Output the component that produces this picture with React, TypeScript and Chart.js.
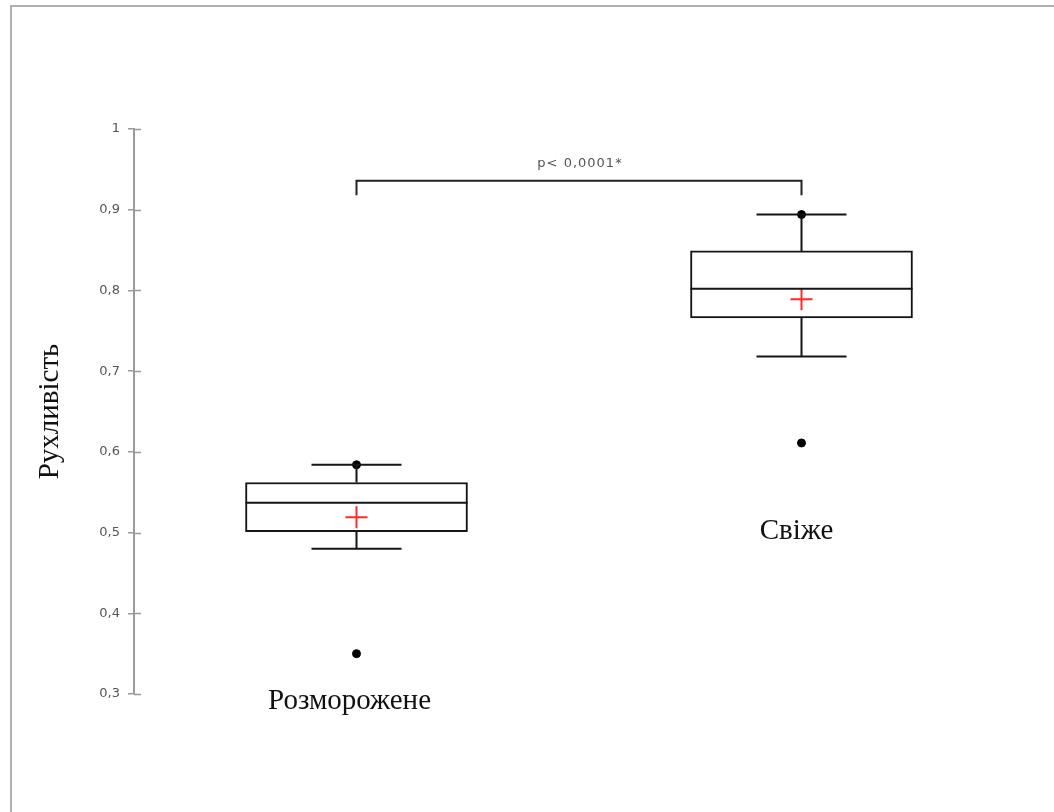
import React, { useEffect, useRef } from "react";
import { Chart, registerables } from "chart.js";

Chart.register(...registerables);

// ---- data ----
const categories = ["Розморожене", "Свіже"];
const categoryX = [1, 2];
const q1Values = [0.501, 0.766];
const medianValues = [0.537, 0.802];
const q3Values = [0.562, 0.849];
const whiskerLow = [0.48, 0.718];
const whiskerHigh = [0.584, 0.894];
const meanValues = [0.519, 0.789];
const extremePoints = [
  [0.584, 0.35],
  [0.894, 0.611],
];
const yTicks = [0.3, 0.4, 0.5, 0.6, 0.7, 0.8, 0.9, 1];
const yTitle = "Рухливість";
const pValueText = "p< 0,0001*";

// annotation placements (value units)
const bracketTop = 0.936;
const bracketBottom = 0.918;
const pTextLevel = 0.957;
const labelBaselines = [0.2814, 0.4915];
const labelShift = [-7, -5];

const CAP_HALF = 45;
const AXIS_GREY = "#9a9a9a";
const LINE = "#151515";

const fmt = (v: number) => {
  const r = Math.round(v * 10) / 10;
  return r === 1 ? "1" : r.toFixed(1).replace(".", ",");
};

const boxPlugin = {
  id: "boxExtras",
  afterDatasetsDraw(chart: any) {
    const { ctx, scales } = chart;
    const xs = scales.x;
    const ys = scales.y;
    ctx.save();
    // inner tick halves
    ctx.strokeStyle = AXIS_GREY;
    ctx.lineWidth = 1.5;
    const ax = chart.chartArea.left;
    yTicks.forEach((t) => {
      const py = Math.round(ys.getPixelForValue(t)) + 0.5;
      ctx.beginPath();
      ctx.moveTo(ax, py);
      ctx.lineTo(ax + 7, py);
      ctx.stroke();
    });

    ctx.strokeStyle = LINE;
    ctx.lineWidth = 2;
    const boxHalf = 111;
    categoryX.forEach((cx, i) => {
      const px = xs.getPixelForValue(cx);
      const pm = ys.getPixelForValue(medianValues[i]);
      ctx.beginPath();
      ctx.moveTo(px - boxHalf, pm);
      ctx.lineTo(px + boxHalf, pm);
      ctx.stroke();
      const pq1 = ys.getPixelForValue(q1Values[i]);
      const pq3 = ys.getPixelForValue(q3Values[i]);
      const pwl = ys.getPixelForValue(whiskerLow[i]);
      const pwh = ys.getPixelForValue(whiskerHigh[i]);
      ctx.beginPath();
      ctx.moveTo(px, pq3);
      ctx.lineTo(px, pwh);
      ctx.moveTo(px - CAP_HALF, pwh);
      ctx.lineTo(px + CAP_HALF, pwh);
      ctx.moveTo(px, pq1);
      ctx.lineTo(px, pwl);
      ctx.moveTo(px - CAP_HALF, pwl);
      ctx.lineTo(px + CAP_HALF, pwl);
      ctx.stroke();
    });

    // bracket
    const bx1 = xs.getPixelForValue(categoryX[0]);
    const bx2 = xs.getPixelForValue(categoryX[1]);
    const bt = ys.getPixelForValue(bracketTop);
    const bb = ys.getPixelForValue(bracketBottom);
    ctx.lineWidth = 2;
    ctx.strokeStyle = "#222";
    ctx.beginPath();
    ctx.moveTo(bx1, bb);
    ctx.lineTo(bx1, bt);
    ctx.lineTo(bx2, bt);
    ctx.lineTo(bx2, bb);
    ctx.stroke();

    ctx.fillStyle = "#555";
    ctx.font = "13px 'DejaVu Sans', sans-serif";
    (ctx as any).letterSpacing = "1px";
    ctx.textAlign = "center";
    ctx.textBaseline = "middle";
    ctx.fillText(pValueText, (bx1 + bx2) / 2 + 1, ys.getPixelForValue(pTextLevel));
    (ctx as any).letterSpacing = "0px";

    // category labels
    ctx.fillStyle = "#111";
    ctx.font = "29px 'Liberation Serif', serif";
    ctx.textBaseline = "alphabetic";
    categories.forEach((c, i) => {
      const px = xs.getPixelForValue(categoryX[i]) + labelShift[i];
      ctx.fillText(c, px, ys.getPixelForValue(labelBaselines[i]));
    });

    // frame lines
    ctx.strokeStyle = "#b0b0b0";
    ctx.lineWidth = 2;
    ctx.beginPath();
    ctx.moveTo(11, 812);
    ctx.lineTo(11, 6);
    ctx.lineTo(1054, 6);
    ctx.stroke();
    ctx.restore();
  },
};

export default function App() {
  const ref = useRef<HTMLCanvasElement | null>(null);

  useEffect(() => {
    if (!ref.current) return;
    const chart = new Chart(ref.current, {
      type: "bar",
      data: {
        datasets: [
          {
            type: "bar",
            data: categoryX.map((x, i) => ({ x, y: [q1Values[i], q3Values[i]] })) as any,
            backgroundColor: "#ffffff",
            borderColor: LINE,
            borderWidth: 2,
            borderSkipped: false,
            barThickness: 222,
            order: 3,
          } as any,
          {
            type: "scatter",
            data: categoryX.flatMap((x, i) => extremePoints[i].map((y) => ({ x, y }))),
            backgroundColor: "#000",
            borderColor: "#000",
            pointRadius: 4,
            order: 1,
          } as any,
          {
            type: "scatter",
            data: categoryX.map((x, i) => ({ x, y: meanValues[i] })),
            pointStyle: "cross",
            pointRadius: 11,
            borderColor: "#ff2a2a",
            borderWidth: 2,
            order: 0,
          } as any,
        ],
      },
      options: {
        responsive: false,
        animation: false,
        events: [],
        layout: { padding: { top: 129, bottom: 118, left: 0, right: 30 } },
        plugins: { legend: { display: false }, tooltip: { enabled: false } },
        scales: {
          x: { type: "linear", min: 0.5, max: 2.5, display: false, offset: false },
          y: {
            min: 0.3,
            max: 1,
            afterFit: (s: any) => {
              s.width = 134;
            },
            afterBuildTicks: (s: any) => {
              s.ticks = yTicks.map((v) => ({ value: v }));
            },
            ticks: {
              callback: (v: any) => fmt(Number(v)),
              color: "#555",
              font: { family: "'DejaVu Sans', sans-serif", size: 13 },
              padding: 8,
            },
            grid: {
              drawOnChartArea: false,
              drawTicks: true,
              tickLength: 6,
              color: AXIS_GREY,
              lineWidth: 1.5,
            },
            border: { display: true, color: AXIS_GREY, width: 2 },
            title: {
              display: true,
              text: yTitle,
              color: "#111",
              font: { family: "'Liberation Serif', serif", size: 29 },
              padding: { top: 33, bottom: 0 },
            },
          },
        },
      } as any,
      plugins: [boxPlugin],
    });
    return () => chart.destroy();
  }, []);

  return (
    <div style={{ position: "absolute", left: 0, top: 0, width: 1054, height: 812, background: "#fff" }}>
      <canvas ref={ref} width={1054} height={812} style={{ display: "block" }} />
    </div>
  );
}
